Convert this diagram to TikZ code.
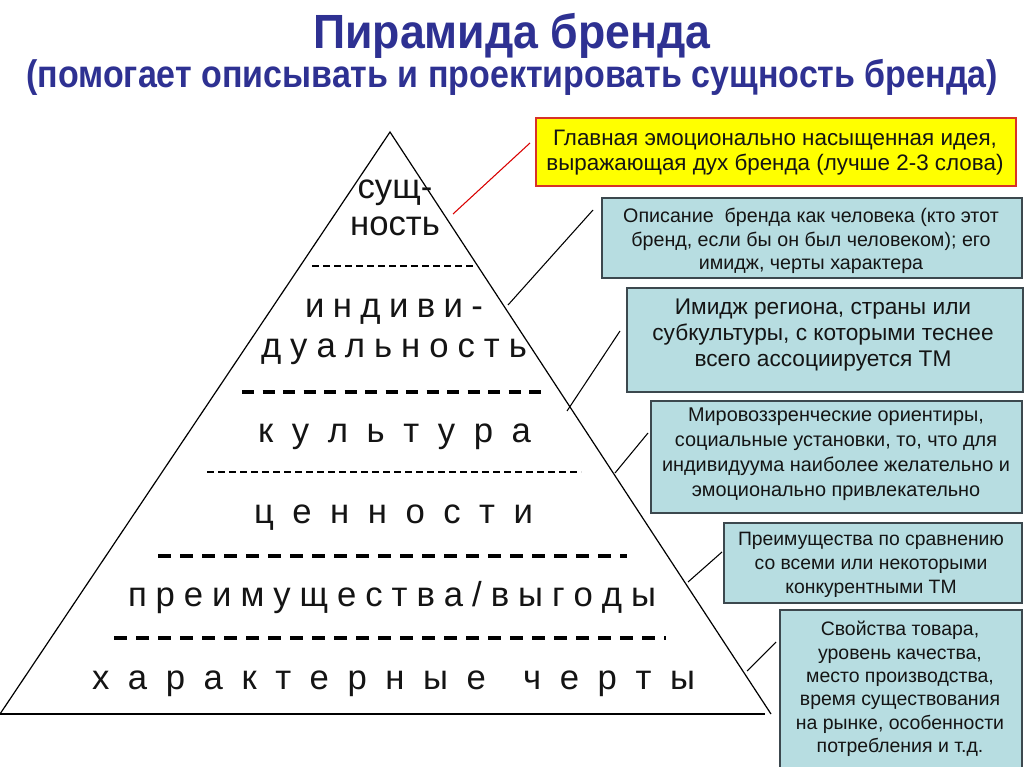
\documentclass[tikz,border=0pt]{standalone}
\usepackage{fontspec}
\setmainfont{Liberation Sans}
\newfontfamily\titlefonta{Liberation Sans}[FakeStretch=0.93]
\newfontfamily\titlefontb{Liberation Sans}[FakeStretch=0.885]
\newdimen\pxu \pxu=0.75pt
\definecolor{titleblue}{RGB}{46,49,146}
\definecolor{boxblue}{RGB}{183,221,225}
\definecolor{boxborder}{RGB}{60,72,78}
\definecolor{ylw}{RGB}{255,255,0}
\definecolor{ylwborder}{RGB}{215,50,40}
\definecolor{txt}{RGB}{20,20,20}
\newcommand\spreadtext[2]{\makebox[#1\pxu][s]{#2}}
\tikzset{
  bluebox/.style={draw=boxborder, line width=1.5pt, fill=boxblue, rectangle, inner sep=0pt, anchor=north west},
  yellowbox/.style={draw=ylwborder, line width=1.5pt, fill=ylw, rectangle, inner sep=0pt, anchor=north west},
  btext/.style={align=center, inner sep=0pt, text=txt, font=\fontsize{14.6}{17.6}\selectfont},
  pyrtext/.style={anchor=base, inner sep=0pt, text=txt, font=\fontsize{26}{30}\selectfont},
  pyrline/.style={line width=0.9pt, black},
  conn/.style={line width=0.8pt, black},
  thindash/.style={line width=2pt, dash pattern=on 7\pxu off 4\pxu},
  thickdash/.style={line width=2.6pt, dash pattern=on 13\pxu off 9\pxu},
  titletext/.style={anchor=base, inner sep=0pt, text=titleblue}
}
\begin{document}
\begin{tikzpicture}[x=0.75pt,y=-0.75pt]
\useasboundingbox (0,0) rectangle (1024,767);
\fill[white] (0,0) rectangle (1024,767);

% title
\node[titletext, font=\titlefonta\bfseries\fontsize{36}{40}\selectfont] (t1) at (512,49) {Пирамида бренда};
\node[titletext, font=\titlefontb\bfseries\fontsize{28.8}{32}\selectfont] (t2) at (512,88) {(помогает описывать и проектировать сущность бренда)};

% pyramid
\coordinate (apex) at (390,132);
\coordinate (bl) at (0,714);
\coordinate (br) at (771,714);
\coordinate (be) at (765,714);
\draw[pyrline] (bl) -- (apex) -- (br);
\draw[pyrline] (bl) -- (be);

% dashed separators
\coordinate (d1a) at (312,266); \coordinate (d1b) at (476,266);
\coordinate (d2a) at (242,392); \coordinate (d2b) at (547,392);
\coordinate (d3a) at (207,472); \coordinate (d3b) at (581,472);
\coordinate (d4a) at (158,556); \coordinate (d4b) at (627,556);
\coordinate (d5a) at (114,638); \coordinate (d5b) at (666,638);
\draw[thindash] (d1a) -- (d1b);
\draw[thickdash, dash pattern=on 12\pxu off 8.5\pxu] (d2a) -- (d2b);
\draw[thindash] (d3a) -- (d3b);
\draw[thickdash] (d4a) -- (d4b);
\draw[thickdash] (d5a) -- (d5b);

% pyramid texts
\node[pyrtext] (l1a) at (395,198) {сущ-};
\node[pyrtext] (l1b) at (395,235) {ность};
\node[pyrtext] (l2a) at (394,317) {\spreadtext{178}{и н д и в и -}};
\node[pyrtext] (l2b) at (394,357) {\spreadtext{266}{д у а л ь н о с т ь}};
\node[pyrtext] (l3) at (394.5,442) {\spreadtext{273}{к у л ь т у р а}};
\node[pyrtext] (l4) at (393.5,523) {\spreadtext{279}{ц е н н о с т и}};
\node[pyrtext] (l5) at (392,606) {\spreadtext{528}{п р е и м у щ е с т в а / в ы г о д ы}};
\node[pyrtext] (l6) at (393.5,689) {\spreadtext{603}{х а р а к т е р н ы е\ \ ч е р т ы}};

% boxes
\node[yellowbox, minimum width=480\pxu, minimum height=68\pxu] (y1) at (535,117) {};
\node[btext, font=\fontsize{16.8}{18.8}\selectfont] at (775,153) {Главная эмоционально насыщенная идея,\\выражающая дух бренда (лучше 2-3 слова)};

\node[bluebox, minimum width=420\pxu, minimum height=80\pxu] (b2) at (601,197) {};
\node[btext, font=\fontsize{14.75}{17.6}\selectfont] at (811,241) {Описание\ \ бренда как человека (кто этот\\бренд, если бы он был человеком); его\\имидж, черты характера};

\node[bluebox, minimum width=396\pxu, minimum height=104\pxu] (b3) at (626,287) {};
\node[btext, font=\fontsize{17}{19.5}\selectfont] at (823,335) {Имидж региона, страны или\\субкультуры, с которыми теснее\\всего ассоциируется ТМ};

\node[bluebox, minimum width=371\pxu, minimum height=112\pxu] (b4) at (650,400) {};
\node[btext, font=\fontsize{14.9}{18.75}\selectfont] at (836,454) {Мировоззренческие ориентиры,\\социальные установки, то, что для\\индивидуума наиболее желательно и\\эмоционально привлекательно};

\node[bluebox, minimum width=298\pxu, minimum height=80\pxu] (b5) at (723,522) {};
\node[btext, font=\fontsize{14.5}{18}\selectfont] at (871,565) {Преимущества по сравнению\\со всеми или некоторыми\\конкурентными ТМ};

\node[bluebox, minimum width=242\pxu, minimum height=165\pxu] (b6) at (779,609) {};
\node[btext, font=\fontsize{14.6}{17.5}\selectfont] at (900,689) {Свойства товара,\\уровень качества,\\место производства,\\время существования\\на рынке, особенности\\потребления и т.д.};

% connectors
\coordinate (c1a) at (453,214); \coordinate (c1b) at (530,143);
\coordinate (c2a) at (508,305); \coordinate (c2b) at (593,210);
\coordinate (c3a) at (567,411); \coordinate (c3b) at (620,331);
\coordinate (c4a) at (615,473); \coordinate (c4b) at (648,433);
\coordinate (c5a) at (688,582); \coordinate (c5b) at (722,552);
\coordinate (c6a) at (747,671); \coordinate (c6b) at (776,642);
\draw[conn, red!85!black] (c1a) -- (c1b);
\draw[conn] (c2a) -- (c2b);
\draw[conn] (c3a) -- (c3b);
\draw[conn] (c4a) -- (c4b);
\draw[conn] (c5a) -- (c5b);
\draw[conn] (c6a) -- (c6b);
\end{tikzpicture}
\end{document}
